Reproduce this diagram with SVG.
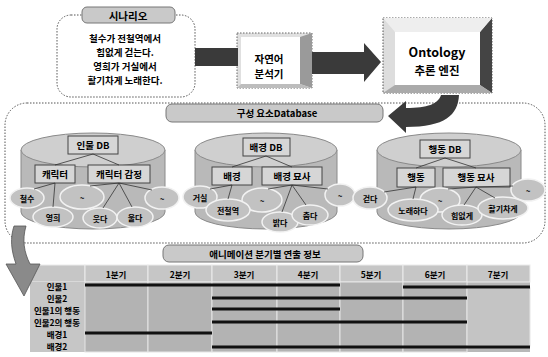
<svg xmlns="http://www.w3.org/2000/svg" width="548" height="357" viewBox="0 0 548 357">
<style>
text{font-family:'Noto Sans CJK KR','Noto Sans',sans-serif;font-weight:bold;fill:#000;text-anchor:middle;dominant-baseline:central}
.dash{fill:#fff;stroke:#555;stroke-width:1;stroke-dasharray:1.5 1.5}
.pill{fill:#c9c9c9;stroke:#777;stroke-width:1}
.cylb{fill:#b9b9b9;stroke:#8a8a8a;stroke-width:1}
.cylt{fill:#cfcfcf;stroke:#8a8a8a;stroke-width:1}
.box{fill:#d6d6d6;stroke:#444;stroke-width:1}
.ell{fill:#c2c2c2;stroke:#f2f2f2;stroke-width:1.5}
.ln{stroke:#333;stroke-width:0.8;fill:none}
.dark{fill:#3a3a3a}
.hd{fill:#c6c6c6;stroke:#ececec;stroke-width:1}
.cell{fill:#b3b3b3;stroke:#e6e6e6;stroke-width:1}
.tl{stroke:#111;stroke-width:3}
.s10{font-size:10.5px}
.sc{font-size:9.5px}
.s9{font-size:9.5px}
.s8{font-size:8px}
.t8{font-size:8.5px}
</style>

<g id="container">
<rect x="5" y="103" width="540" height="140" rx="22" class="dash"/>
</g>

<g id="scenario">
<rect x="57" y="15" width="138" height="82" rx="14" class="dash"/>
<rect x="82" y="7" width="93" height="16" rx="5" class="pill"/>
<text x="128" y="15" class="s10">시나리오</text>
<text x="125" y="38" class="sc">철수가 전철역에서</text>
<text x="125" y="52" class="sc">힘없게 걷는다.</text>
<text x="125" y="66" class="sc">영희가 거실에서</text>
<text x="125" y="80" class="sc">활기차게 노래한다.</text>
</g>

<g id="nlp">
<rect x="237" y="33" width="75" height="55" fill="#e0e0e0" stroke="#666" stroke-width="1" stroke-dasharray="1.5 1.5"/>
<path d="M300,37 L312,33 L312,88 L300,84 Z" fill="#9a9a9a"/>
<path d="M237,88 L241,84 L300,84 L312,88 Z" fill="#bdbdbd"/>
<rect x="241" y="37" width="59" height="47" fill="#fff"/>
<text x="269" y="58" class="s10">자연어</text>
<text x="269" y="73" class="s10">분석기</text>
</g>

<g id="ontology">
<rect x="383" y="18" width="109" height="75" fill="#ddd" stroke="#555" stroke-width="1" stroke-dasharray="1.5 1.5"/>
<path d="M480,32 L492,18 L492,93 L480,85 Z" fill="#444"/>
<path d="M383,93 L395,85 L480,85 L492,93 Z" fill="#aaa"/>
<path d="M383,18 L395,32 L480,32 L492,18 Z" fill="#eee"/>
<rect x="395" y="32" width="85" height="53" fill="#fff"/>
<text x="437" y="51" font-size="12.5">Ontology</text>
<text x="437" y="70" font-size="11.5">추론 엔진</text>
</g>

<g id="db-title">
<rect x="166" y="104" width="217" height="18" rx="6" class="pill"/>
<text x="277" y="113" class="s9">구성 요소Database</text>
</g>

<g id="db-person">
<path class="cylb" d="M21,150 L21,212 A72,17 0 0 0 165,212 L165,150 Z"/>
<ellipse cx="93" cy="150" rx="72" ry="17" class="cylt"/>
<rect x="68" y="136" width="50" height="18" class="box"/>
<text x="93" y="145" class="s9">인물 DB</text>
<rect x="35" y="165" width="40" height="18" class="box"/>
<text x="55" y="174" class="s9">캐릭터</text>
<rect x="88" y="165" width="62" height="18" class="box"/>
<text x="119" y="174" class="s9">캐릭터 감정</text>
<ellipse cx="27" cy="198" rx="17" ry="10" class="ell"/><text x="27" y="198" class="s8">철수</text>
<ellipse cx="82" cy="197" rx="22" ry="12" class="ell"/><text x="82" y="197" class="s8">~</text>
<ellipse cx="162" cy="198" rx="17" ry="11" class="ell"/><text x="162" y="198" class="s8">~</text>
<ellipse cx="53" cy="217" rx="20" ry="10" class="ell"/><text x="53" y="217" class="s8">영희</text>
<ellipse cx="100" cy="218" rx="17" ry="10" class="ell"/><text x="100" y="218" class="s8">웃다</text>
<ellipse cx="135" cy="217" rx="18" ry="10" class="ell"/><text x="135" y="217" class="s8">울다</text>
</g>

<g id="db-background">
<path class="cylb" d="M195,150 L195,212 A71,17 0 0 0 337,212 L337,150 Z"/>
<ellipse cx="266" cy="150" rx="71" ry="17" class="cylt"/>
<rect x="243" y="138" width="47" height="18" class="box"/>
<text x="266" y="147" class="s9">배경 DB</text>
<rect x="212" y="167" width="40" height="18" class="box"/>
<text x="232" y="176" class="s9">배경</text>
<rect x="262" y="167" width="60" height="18" class="box"/>
<text x="292" y="176" class="s9">배경 묘사</text>
<ellipse cx="200" cy="197" rx="17" ry="11" class="ell"/><text x="200" y="197" class="s8">거실</text>
<ellipse cx="262" cy="200" rx="20" ry="12" class="ell"/><text x="262" y="200" class="s8">~</text>
<ellipse cx="340" cy="195" rx="15" ry="11" class="ell"/><text x="340" y="195" class="s8">~</text>
<ellipse cx="228" cy="210" rx="22" ry="11" class="ell"/><text x="228" y="210" class="s8">전철역</text>
<ellipse cx="280" cy="222" rx="18" ry="10" class="ell"/><text x="280" y="222" class="s8">밝다</text>
<ellipse cx="310" cy="215" rx="18" ry="10" class="ell"/><text x="310" y="215" class="s8">춥다</text>
</g>

<g id="db-action">
<path class="cylb" d="M377,150 L377,212 A72,17 0 0 0 521,212 L521,150 Z"/>
<ellipse cx="449" cy="150" rx="72" ry="17" class="cylt"/>
<rect x="420" y="140" width="50" height="18" class="box"/>
<text x="445" y="149" class="s9">행동 DB</text>
<rect x="397" y="168" width="38" height="19" class="box"/>
<text x="416" y="177" class="s9">행동</text>
<rect x="443" y="168" width="67" height="19" class="box"/>
<text x="476" y="177" class="s9">행동 묘사</text>
<ellipse cx="370" cy="198" rx="17" ry="11" class="ell"/><text x="370" y="198" class="s8">걷다</text>
<ellipse cx="440" cy="200" rx="20" ry="12" class="ell"/><text x="440" y="200" class="s8">~</text>
<ellipse cx="528" cy="190" rx="17" ry="11" class="ell"/><text x="528" y="190" class="s8">~</text>
<ellipse cx="413" cy="210" rx="25" ry="11" class="ell"/><text x="413" y="210" class="s8">노래하다</text>
<ellipse cx="462" cy="215" rx="20" ry="10" class="ell"/><text x="462" y="215" class="s8">힘없게</text>
<ellipse cx="503" cy="208" rx="25" ry="11" class="ell"/><text x="503" y="208" class="s8">활기차게</text>
</g>

<g id="anim-title">
<rect x="163" y="245" width="200" height="17" rx="6" class="pill"/>
<text x="265" y="253.5" class="s9">애니메이션 분기별 연출 정보</text>
</g>

<g id="table">
<rect x="30" y="265" width="500" height="87" fill="#b8b8b8"/>
<rect x="30" y="265" width="55" height="17" class="hd"/>
<rect x="85" y="265" width="63" height="17" class="hd"/>
<rect x="148" y="265" width="64" height="17" class="hd"/>
<rect x="212" y="265" width="65" height="17" class="hd"/>
<rect x="277" y="265" width="63" height="17" class="hd"/>
<rect x="340" y="265" width="63" height="17" class="hd"/>
<rect x="403" y="265" width="64" height="17" class="hd"/>
<rect x="467" y="265" width="63" height="17" class="hd"/>
<text x="116" y="273.5" class="t8">1분기</text>
<text x="180" y="273.5" class="t8">2분기</text>
<text x="244" y="273.5" class="t8">3분기</text>
<text x="308" y="273.5" class="t8">4분기</text>
<text x="371" y="273.5" class="t8">5분기</text>
<text x="435" y="273.5" class="t8">6분기</text>
<text x="498" y="273.5" class="t8">7분기</text>
<rect x="30" y="282" width="55" height="70" fill="#c6c6c6"/>
<rect x="85" y="282" width="63" height="70" class="cell"/>
<rect x="148" y="282" width="64" height="70" class="cell"/>
<rect x="212" y="282" width="65" height="70" class="cell"/>
<rect x="277" y="282" width="63" height="70" class="cell"/>
<rect x="340" y="282" width="63" height="70" class="cell"/>
<rect x="403" y="282" width="64" height="70" class="cell"/>
<rect x="467" y="288" width="63" height="58" fill="#c4c4c4" stroke="#e6e6e6"/>
<text x="57" y="286" class="t8">인물1</text>
<text x="57" y="298" class="t8">인물2</text>
<text x="57" y="310" class="t8">인물1의 행동</text>
<text x="57" y="322" class="t8">인물2의 행동</text>
<text x="57" y="334" class="t8">배경1</text>
<text x="57" y="346" class="t8">배경2</text>
<line class="tl" x1="85" y1="285" x2="340" y2="285"/>
<line class="tl" x1="403" y1="287" x2="530" y2="287"/>
<line class="tl" x1="212" y1="298" x2="467" y2="298"/>
<line class="tl" x1="212" y1="309" x2="340" y2="309"/>
<line class="tl" x1="212" y1="322" x2="467" y2="322"/>
<line class="tl" x1="85" y1="333" x2="212" y2="333"/>
<line class="tl" x1="212" y1="347" x2="530" y2="347"/>
</g>

<g id="connectors">
<rect x="195" y="48" width="43" height="18" class="dark"/>
<path d="M312,52 L364,52 L364,43 L381,62 L364,82 L364,74 L312,74 Z" class="dark"/>
<path d="M441,95 L459,95 C458,115 445,127 406,127 L406,133 L388,116 L406,101 L406,108 C428,108 438,104 441,95 Z" class="dark"/>
<path d="M14,226 L26,226 C22,240 24,252 30,264 L40,264 L24,296 L6,264 L16,264 C11,250 10,238 14,226 Z" fill="#8a8a8a" stroke="#555" stroke-width="0.8"/>
<path class="ln" d="M93,154 L55,165 M93,154 L119,165 M55,183 L34,189 M55,183 L53,207 M119,183 L90,186 M119,183 L103,208 M119,183 L132,207 M119,183 L152,190"/>
<path class="ln" d="M266,156 L232,167 M266,156 L292,167 M232,185 L210,189 M232,185 L228,199 M292,185 L268,189 M292,185 L282,212 M292,185 L306,205 M292,185 L328,189"/>
<path class="ln" d="M445,158 L416,168 M445,158 L476,168 M416,187 L384,192 M416,187 L413,199 M476,187 L448,189 M476,187 L464,205 M476,187 L495,198 M476,187 L513,186"/>
</g>
</svg>
